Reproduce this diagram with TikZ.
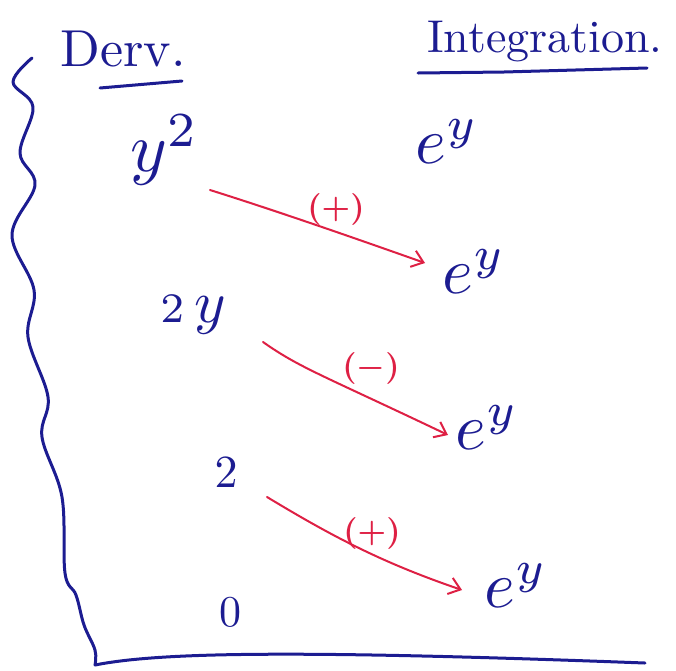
\documentclass[tikz,border=0pt]{standalone}
\usetikzlibrary{arrows.meta}
\definecolor{ink}{RGB}{28,28,145}
\definecolor{redink}{RGB}{222,32,68}
\begin{document}
\begin{tikzpicture}[x=1pt,y=-1pt,
  term/.style={text=ink, inner sep=0pt},
  head/.style={text=ink, inner sep=0pt},
  sign/.style={text=redink, inner sep=0pt, scale=3.2, font=\boldmath},
  stroke/.style={draw=ink, line width=3pt, line cap=round, line join=round},
  redarrow/.style={draw=redink, line width=2pt, line cap=round,
    -{Straight Barb[length=11pt,width=17pt,line width=2pt]}}]
\useasboundingbox (0,0) rectangle (676,670);
% headings
\node[head, scale=5.2] (derv) at (123,49) {Derv.};
\node[head, scale=4.6] (integ) at (545,42) {Integration.};
\coordinate (du1) at (100,88);
\coordinate (du2) at (182,81);
\draw[stroke] (du1) -- (du2);
\coordinate (iu1) at (418,73);
\coordinate (iu2) at (647,68);
\draw[stroke] (iu1) -- (504,72) -- (iu2);
% terms
\node[term, scale=7] (y2) at (165,150) {$y^2$};
\node[term, scale=6.6] (ey1) at (447,142) {$e^{y}$};
\node[term, scale=6.6] (ey2) at (474,272) {$e^{y}$};
\node[term, scale=6] (twoy) at (193,315) {${\scriptstyle 2}\,y$};
\node[term, scale=6.6] (ey3) at (487,428) {$e^{y}$};
\node[term, scale=4.6] (two) at (226,473) {$2$};
\node[term, scale=4.4] (zero) at (230,612) {$0$};
\node[term, scale=6.6] (ey4) at (516,586) {$e^{y}$};
% signs
\node[sign] (p1) at (336,209) {$(+)$};
\node[sign] (m1) at (371,368) {$(-)$};
\node[sign] (p2) at (372,533) {$(+)$};
% arrows
\draw[redarrow] ([shift={(45,40)}]y2.center) .. controls (280,212) and (360,240) .. ([shift={(-49,-9)}]ey2.center);
\draw[redarrow] ([shift={(70,27)}]twoy.center) .. controls (300,368) and (320,374) .. ([shift={(-39,7)}]ey3.center);
\draw[redarrow] ([shift={(41,24)}]two.center) .. controls (330,535) and (380,562) .. ([shift={(-54,4)}]ey4.center);
% left wavy line and bottom line
\coordinate (wbot) at (95,665);
\coordinate (bend) at (645,663);
\draw[stroke] plot[smooth, tension=0.6] coordinates {(32,58) (13,82) (33,107) (20,153) (35,185) (12,235) (34,290) (28,337) (48,397) (42,437) (62,497) (65,573) (76,595) (84,625) (95,650) (95,665)};
\draw[stroke] (wbot) .. controls (160,652) and (300,650) .. (bend);
\end{tikzpicture}
\end{document}
